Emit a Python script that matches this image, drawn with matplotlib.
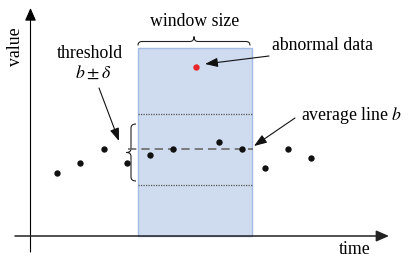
import matplotlib
matplotlib.use("Agg")
import matplotlib.pyplot as plt
from matplotlib.path import Path
from matplotlib.patches import PathPatch, Rectangle
from matplotlib.transforms import Affine2D

plt.rcParams['font.family'] = ['Liberation Serif', 'DejaVu Serif']
plt.rcParams['mathtext.fontset'] = 'stix'

# ---- data ----
time = [1, 2, 3, 4, 5, 6, 7, 8, 9, 10, 11, 12]
values = [6.3, 7.3, 8.7, 7.3, 8.1, 8.7, 16.9, 9.4, 8.7, 6.8, 8.7, 7.8]
abnormal_idx = [6]
b_avg = 8.7
delta = 3.55
window_start = 4.5
window_end = 9.42
window_top = 18.8

W, H = 413, 261
fig = plt.figure(figsize=(W / 100, H / 100), dpi=100)
ax = fig.add_axes([0, 0, 1, 1])
# time/value scale: 23.1 px per time step, 10 px per value unit
ax.set_xlim(1 - 57.3 / 23.1, 1 + (W - 57.3) / 23.1)
ax.set_ylim(-(H - 236) / 10, 236 / 10)
ax.axis('off')

# pixel transform (top-left origin) for decorations
pix = Affine2D().scale(1 / 100, -1 / 100).translate(0, H / 100) + fig.dpi_scale_trans

# window
ax.add_patch(Rectangle((window_start, 0), window_end - window_start, window_top,
                       facecolor='#CFDBEF', edgecolor='#A3BCE4', lw=1.0, zorder=1))
# threshold lines
ax.plot([window_start, window_end], [b_avg + delta] * 2, ls=(0, (1, 1)), color='#555555', lw=0.9, zorder=2)
ax.plot([window_start, window_end], [b_avg - delta] * 2, ls=(0, (1, 1)), color='#555555', lw=0.9, zorder=2)
# average line
ax.plot([window_start - 0.45, window_end + 0.05], [b_avg] * 2, ls=(0, (5, 3)), color='#6a6a6a', lw=1.2, zorder=2)

# points
normal_t = [t for i, t in enumerate(time) if i not in abnormal_idx]
normal_v = [v for i, v in enumerate(values) if i not in abnormal_idx]
ab_t = [time[i] for i in abnormal_idx]
ab_v = [values[i] for i in abnormal_idx]
ax.scatter(normal_t, normal_v, s=21, color='#111111', zorder=4, linewidths=0)
ax.scatter(ab_t, ab_v, s=21, color='#E8262A', zorder=4, linewidths=0)

# axes with arrows
axis_kw = dict(arrowstyle='-|>,head_length=0.55,head_width=0.24', mutation_scale=14, shrinkA=0, shrinkB=0)
ax.annotate('', xy=(30.5, 8), xytext=(30.5, 252), xycoords=pix, textcoords=pix,
            arrowprops=dict(color='black', lw=0.8, **axis_kw))
ax.annotate('', xy=(389, 236), xytext=(15, 236), xycoords=pix, textcoords=pix,
            arrowprops=dict(color='#222222', lw=1.1, **axis_kw))

# braces
def hbrace(x0, x1, ytip, yl, ypk, r=4):
    xm = (x0 + x1) / 2
    verts = [(x0, ytip), (x0, yl), (x0 + r, yl), (xm - r, yl), (xm, yl), (xm, ypk),
             (xm, yl), (xm + r, yl), (x1 - r, yl), (x1, yl), (x1, ytip)]
    codes = [Path.MOVETO, Path.CURVE3, Path.CURVE3, Path.LINETO, Path.CURVE3, Path.CURVE3,
             Path.CURVE3, Path.CURVE3, Path.LINETO, Path.CURVE3, Path.CURVE3]
    return Path(verts, codes)

def vbrace(y0, y1, xtip, xl, xpk, r=4):
    ym = (y0 + y1) / 2
    verts = [(xtip, y0), (xl, y0), (xl, y0 + r), (xl, ym - r), (xl, ym), (xpk, ym),
             (xl, ym), (xl, ym + r), (xl, y1 - r), (xl, y1), (xtip, y1)]
    codes = [Path.MOVETO, Path.CURVE3, Path.CURVE3, Path.LINETO, Path.CURVE3, Path.CURVE3,
             Path.CURVE3, Path.CURVE3, Path.LINETO, Path.CURVE3, Path.CURVE3]
    return Path(verts, codes)

ax.add_patch(PathPatch(hbrace(138, 250, 45.5, 41.5, 36.5), transform=pix, fill=False, lw=0.8, color='#222222'))
ax.add_patch(PathPatch(vbrace(124, 181, 136, 131, 126.5), transform=pix, fill=False, lw=0.8, color='#222222'))

fs = 12.8
ax.text(195, 22, 'window size', transform=pix, ha='center', va='center', fontsize=fs)
ax.text(90, 54, 'threshold', transform=pix, ha='center', va='center', fontsize=fs)
ax.text(93, 73, r'$b \pm \delta$', transform=pix, ha='center', va='center', fontsize=fs)
ax.text(272, 46, 'abnormal data', transform=pix, ha='left', va='center', fontsize=fs)
ax.text(301, 115, r'average line $b$', transform=pix, ha='left', va='center', fontsize=fs)
ax.text(355, 250, 'time', transform=pix, ha='center', va='center', fontsize=fs)
ax.text(16, 47, 'value', transform=pix, ha='center', va='center', fontsize=fs, rotation=90)

arrow_kw = dict(arrowstyle='-|>,head_length=0.55,head_width=0.2', color='#111111', lw=0.8,
                mutation_scale=14, shrinkA=0, shrinkB=0)
ax.annotate('', xy=(119, 141), xytext=(99, 88), xycoords=pix, textcoords=pix, arrowprops=arrow_kw)
ax.annotate('', xy=(205, 64), xytext=(269, 56), xycoords=pix, textcoords=pix, arrowprops=arrow_kw)
ax.annotate('', xy=(254, 146), xytext=(295, 118), xycoords=pix, textcoords=pix, arrowprops=arrow_kw)

fig.savefig('out.png', dpi=100)
